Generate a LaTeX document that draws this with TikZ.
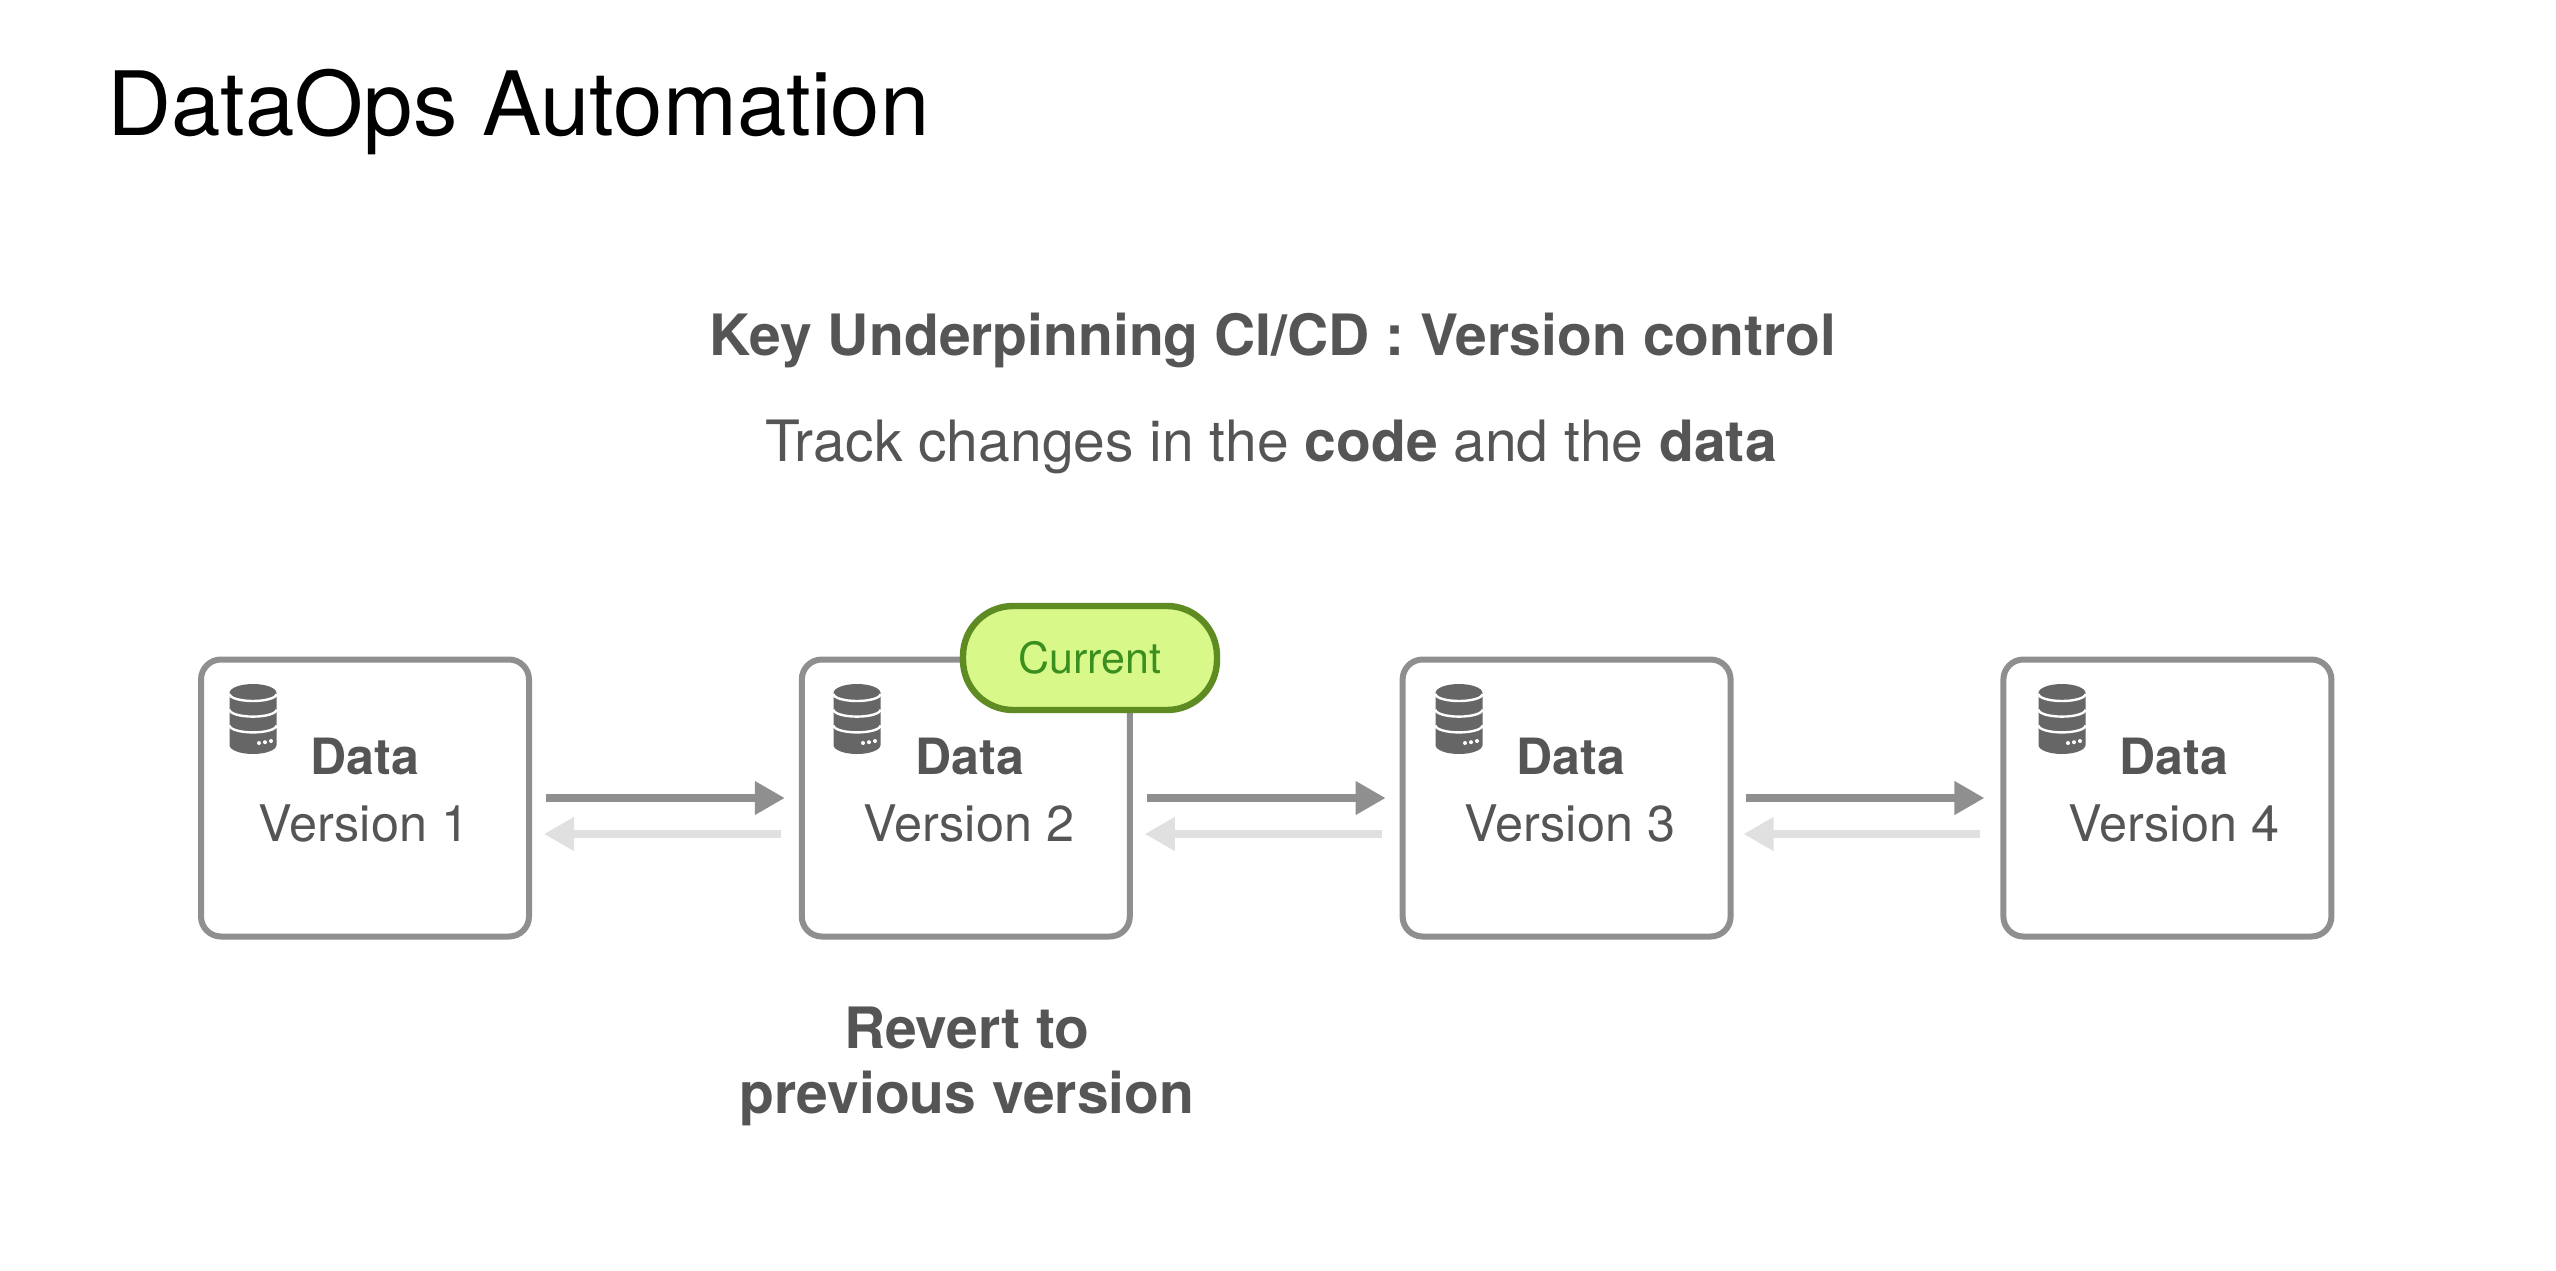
\documentclass[tikz,border=0pt]{standalone}
\usepackage{fontspec}
\setmainfont{TeX Gyre Heros}
\usetikzlibrary{arrows.meta,shadows}

\definecolor{boxgray}{HTML}{8F8F8F}
\definecolor{palegray}{HTML}{E0E0E0}
\definecolor{inkgray}{HTML}{555555}
\definecolor{icongray}{HTML}{666666}
\definecolor{pillfill}{HTML}{D8F98A}
\definecolor{pillline}{HTML}{5E8C22}
\definecolor{pilltext}{HTML}{3B8F1E}

\tikzset{
    versionbox/.style={draw=boxgray, line width=3pt, rounded corners=10pt, fill=white,
        minimum width=164pt, minimum height=138.5pt},
    datalabel/.style={text=inkgray, font=\fontsize{25}{25}\selectfont\bfseries},
    verlabel/.style={text=inkgray, font=\fontsize{25.2}{25.2}\selectfont},
    headlabel/.style={text=inkgray, font=\fontsize{28.5}{28.5}\selectfont},
    pill/.style={draw=pillline, line width=3.2pt, rounded corners=25pt, fill=pillfill,
        minimum width=127pt, minimum height=52pt, text=pilltext,
        font=\fontsize{21.5}{21.5}\selectfont,
        drop shadow={opacity=0.25, shadow xshift=1pt, shadow yshift=-1.5pt}},
    fwd/.style={draw=boxgray, line width=3.6pt, -{Triangle[length=15pt,width=16pt]}},
    back/.style={draw=palegray, line width=3.6pt, -{Triangle[length=15pt,width=16pt]}},
    pics/dbicon/.style={code={
        \begin{scope}[x=1pt,y=1pt]
        \fill[icongray] (-11.75,13) arc[start angle=180, end angle=0, x radius=11.75, y radius=4.5]
            -- (11.75,-13) arc[start angle=0, end angle=-180, x radius=11.75, y radius=4.5] -- cycle;
        \draw[white, line width=1.2pt] (-11.75,12.5) arc[start angle=180, end angle=360, x radius=11.75, y radius=3.5];
        \draw[white, line width=1.2pt] (-11.75,4.7) arc[start angle=180, end angle=360, x radius=11.75, y radius=3.5];
        \draw[white, line width=1.2pt] (-11.75,-3.2) arc[start angle=180, end angle=360, x radius=11.75, y radius=3.5];
        \fill[white] (3,-12) circle (1pt) (6,-11.6) circle (1pt) (9,-11) circle (1pt);
        \end{scope}
    }}
}

\begin{document}
\begin{tikzpicture}[
                    x=0.5pt,
                    y=-0.5pt,
                    node distance=300.4pt
                ]
                \path[use as bounding box, fill=white] (0,0) rectangle (2556,1270);

                \node (title) [anchor=base west, font=\fontsize{44.4}{44.4}\selectfont] at (100,135) {DataOps Automation};
                \node (head) [headlabel] at (1273,341) {\bfseries Key Underpinning CI/CD : Version control};
                \node (track) [headlabel] at (1271,447) {Track changes in the \textbf{code} and the \textbf{data}};

                \node (v1) [versionbox] at (365,798) {};
                \node (v2) [versionbox, right of=v1] {};
                \node (v3) [versionbox, right of=v2] {};
                \node (v4) [versionbox, right of=v3] {};

                \node (current) [pill] at (1090,658) {Current};

                \node (d1) [datalabel] at (365,756) {Data};
                \node (d2) [datalabel] at (970,756) {Data};
                \node (d3) [datalabel] at (1571,756) {Data};
                \node (d4) [datalabel] at (2174,756) {Data};
                \node (t1) [verlabel] at (364,823) {Version 1};
                \node (t2) [verlabel] at (969,823) {Version 2};
                \node (t3) [verlabel] at (1570,823) {Version 3};
                \node (t4) [verlabel] at (2174,823) {Version 4};

                \pic at (253,719) {dbicon};
                \pic at (857,719) {dbicon};
                \pic at (1459,719) {dbicon};
                \pic at (2062,719) {dbicon};

                \draw[fwd] ([xshift=7pt]v1.east) -- ([xshift=-7pt]v2.west);
                \draw[fwd] ([xshift=7pt]v2.east) -- ([xshift=-7pt]v3.west);
                \draw[fwd] ([xshift=6pt]v3.east) -- ([xshift=-8pt]v4.west);
                \draw[back] ([xshift=-9pt,yshift=-18pt]v2.west) -- ([xshift=6pt,yshift=-18pt]v1.east);
                \draw[back] ([xshift=-9pt,yshift=-18pt]v3.west) -- ([xshift=6pt,yshift=-18pt]v2.east);
                \draw[back] ([xshift=-10pt,yshift=-18pt]v4.west) -- ([xshift=5pt,yshift=-18pt]v3.east);

                \node (revert) [headlabel, align=center] at (967,1066) {\bfseries Revert to\\[4pt]\bfseries previous version};
            \end{tikzpicture}
\end{document}
